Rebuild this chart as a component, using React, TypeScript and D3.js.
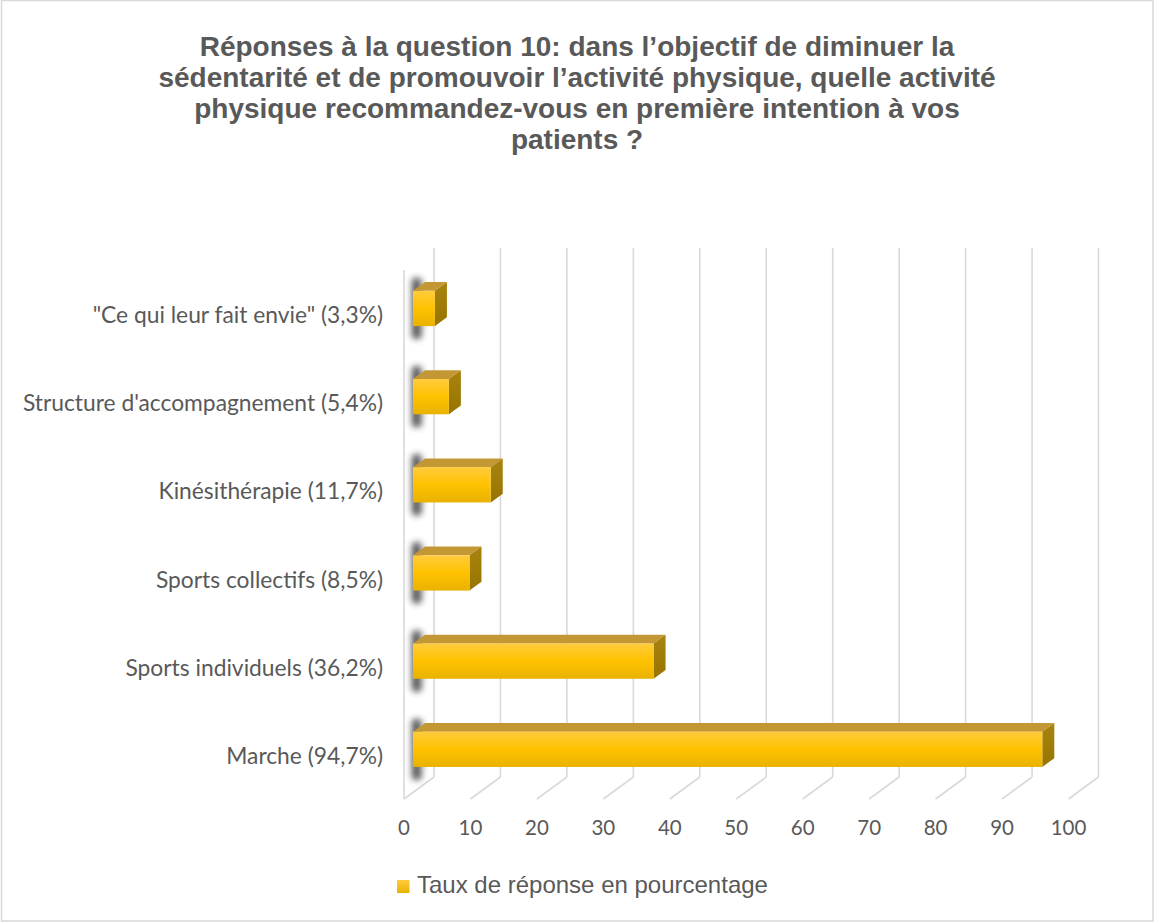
import React from "react";
import * as d3 from "d3";

const categories = [
  '"Ce qui leur fait envie" (3,3%)',
  "Structure d'accompagnement (5,4%)",
  "Kinésithérapie (11,7%)",
  "Sports collectifs (8,5%)",
  "Sports individuels (36,2%)",
  "Marche (94,7%)",
];
const values = [3.3, 5.4, 11.7, 8.5, 36.2, 94.7];
const ticks = [0, 10, 20, 30, 40, 50, 60, 70, 80, 90, 100];
const titleLines = [
  "Réponses à la question 10: dans l’objectif de diminuer la",
  "sédentarité et de promouvoir l’activité physique, quelle activité",
  "physique recommandez-vous en première intention à vos",
  "patients ?",
];
const legendLabel = "Taux de réponse en pourcentage";

const W = 1155;
const H = 924;
const DX = 30; // depth offset x (back - front)
const DY = -22; // depth offset y
const GRID = "#D9D9D9";
const TXT = "#595959";

export default function App() {
  const x = d3.scaleLinear().domain([0, 100]).range([404, 1068.5]);
  const y = d3
    .scaleBand<string>()
    .domain(categories)
    .range([271, 800])
    .paddingInner(0.6)
    .paddingOuter(0.3);
  const bandY = d3
    .scaleBand<string>()
    .domain(categories)
    .range([271, 800])
    .padding(0);
  const f0 = 0.3;
  const f1 = 0.7;
  const floorFront = 799;
  const floorBack = floorFront + DY;
  const wallTop = 248;

  const bw = y.bandwidth();

  return (
    <svg
      width={W}
      height={H}
      style={{ position: "absolute", left: 0, top: 0 }}
      fontFamily="'Liberation Sans', Arial, sans-serif"
    >
      <defs>
        <linearGradient id="front" x1="0" y1="0" x2="0" y2="1">
          <stop offset="0" stopColor="#FFCB3C" />
          <stop offset="0.5" stopColor="#FFC200" />
          <stop offset="1" stopColor="#E9B200" />
        </linearGradient>
        <linearGradient id="side" x1="0" y1="0" x2="0" y2="1">
          <stop offset="0" stopColor="#A88310" />
          <stop offset="1" stopColor="#977400" />
        </linearGradient>
        <linearGradient id="leg" x1="0" y1="0" x2="0" y2="1">
          <stop offset="0" stopColor="#FFCB3C" />
          <stop offset="1" stopColor="#E9B200" />
        </linearGradient>
        <linearGradient id="shade" x1="0" y1="0" x2="1" y2="0">
          <stop offset="0" stopColor="#111" />
          <stop offset="1" stopColor="#555" />
        </linearGradient>
        <filter id="blur" x="-100%" y="-50%" width="300%" height="200%">
          <feGaussianBlur stdDeviation="3.2" />
        </filter>
      </defs>
      <rect x={0} y={0} width={W} height={H} fill="#fff" />
      <rect
        x={1.5}
        y={0.5}
        width={1151.5}
        height={920.5}
        fill="none"
        stroke={GRID}
        strokeWidth={1.5}
      />

      {/* Title */}
      <text fill={TXT} fontWeight="bold" fontSize={28} textAnchor="middle">
        {titleLines.map((t, i) => (
          <tspan key={i} x={577} y={56 + i * 31}>
            {t}
          </tspan>
        ))}
      </text>

      {/* Gridlines: back wall verticals + floor diagonals */}
      {ticks.map((t) => (
        <g key={t} stroke={GRID} strokeWidth={1.6} fill="none">
          <line x1={x(t) + DX} x2={x(t) + DX} y1={wallTop} y2={floorBack} />
          <line x1={x(t) + DX} y1={floorBack} x2={x(t)} y2={floorFront} />
        </g>
      ))}
      {/* Left wall front edge */}
      <line
        x1={x(0)}
        x2={x(0)}
        y1={wallTop - DY}
        y2={floorFront}
        stroke={GRID}
        strokeWidth={1.6}
      />

      {/* Shadows on the left wall */}
      {categories.map((c, i) => {
        const top = (y(c) as number) + DY * f0 - 13;
        const bot = (y(c) as number) + bw + DY * f0 + 13;
        return (
          <rect
            key={"s" + i}
            x={x(0) + 8}
            y={top}
            width={10}
            height={bot - top}
            rx={4}
            fill="url(#shade)"
            opacity={0.8}
            filter="url(#blur)"
          />
        );
      })}

      {/* Bars */}
      {categories.map((c, i) => {
        const v = values[i];
        const ox = DX * f0;
        const oy = DY * f0;
        const dx = DX * (f1 - f0);
        const dy = DY * (f1 - f0);
        const x0 = x(0) + ox;
        const x1 = x(v) + ox;
        const y0 = (y(c) as number) + oy;
        const y1 = y0 + bw;
        const topPts = [
          [x0, y0],
          [x1, y0],
          [x1 + dx, y0 + dy],
          [x0 + dx, y0 + dy],
        ];
        const sidePts = [
          [x1, y0],
          [x1 + dx, y0 + dy],
          [x1 + dx, y1 + dy],
          [x1, y1],
        ];
        return (
          <g key={"b" + i}>
            <polygon
              points={topPts.map((p) => p.join(",")).join(" ")}
              fill="#C39834"
            />
            <polygon
              points={sidePts.map((p) => p.join(",")).join(" ")}
              fill="url(#side)"
            />
            <rect
              x={x0}
              y={y0}
              width={x1 - x0}
              height={bw}
              fill="url(#front)"
            />
          </g>
        );
      })}

      {/* Category labels */}
      {categories.map((c, i) => (
        <text
          key={"l" + i}
          x={383}
          y={(bandY(c) as number) + bandY.bandwidth() / 2}
          dy="0.35em"
          textAnchor="end"
          fill={TXT}
          fontSize={22.8}
          fontFamily="Lato, 'Open Sans', sans-serif"
        >
          {c}
        </text>
      ))}

      {/* Tick labels */}
      {ticks.map((t) => (
        <text
          key={"t" + t}
          x={x(t)}
          y={835}
          textAnchor="middle"
          fill={TXT}
          fontSize={20.5}
          fontFamily="Lato, 'Open Sans', sans-serif"
        >
          {t}
        </text>
      ))}

      {/* Legend */}
      <rect x={397} y={880} width={12.5} height={13} fill="url(#leg)" />
      <text x={417} y={893} fill={TXT} fontSize={24}>
        {legendLabel}
      </text>
    </svg>
  );
}
